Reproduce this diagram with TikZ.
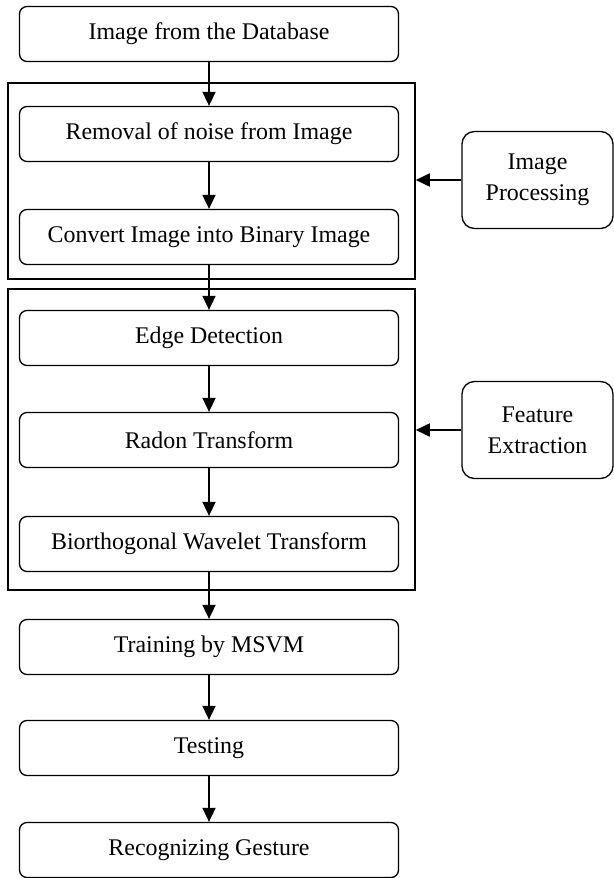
\documentclass[tikz,border=0pt]{standalone}
\usepackage{fontspec}
\setmainfont{Liberation Serif}
\usetikzlibrary{arrows.meta}
\begin{document}
\begin{tikzpicture}[>={Triangle[length=8pt,width=7.5pt]},
  stage/.style={draw,line width=0.75pt,rounded corners=0.15cm,minimum width=7.58cm,minimum height=1.1cm,font=\fontsize{13.6}{16}\selectfont},
  group/.style={draw,line width=0.9pt,inner sep=0pt,minimum width=8.14cm},
  side/.style={draw,line width=0.75pt,rounded corners=0.25cm,minimum width=3.02cm,minimum height=1.94cm,align=center,font=\fontsize{13.6}{17.6}\selectfont},
  flow/.style={->,line width=0.8pt}]
  \useasboundingbox (0,0) rectangle (12.28,-17.56);
  \node[group,minimum height=3.92cm] (ipframe) at (4.23,-3.62) {};
  \node[group,minimum height=6.02cm] (feframe) at (4.23,-8.79) {};
  \node[stage] (db) at (4.18,-0.68) {Image from the Database};
  \node[stage] (noise) at (4.18,-2.68) {Removal of noise from Image};
  \node[stage] (binary) at (4.18,-4.74) {Convert Image into Binary Image};
  \node[stage] (edge) at (4.18,-6.76) {Edge Detection};
  \node[stage] (radon) at (4.18,-8.80) {Radon Transform};
  \node[stage] (wavelet) at (4.18,-10.88) {Biorthogonal Wavelet Transform};
  \node[stage] (msvm) at (4.18,-12.94) {Training by MSVM};
  \node[stage] (testing) at (4.18,-14.96) {Testing};
  \node[stage] (gesture) at (4.18,-17.0) {Recognizing Gesture};
  \node[side] (ip) at (10.75,-3.6) {Image\\Processing};
  \node[side] (fe) at (10.75,-8.6) {Feature\\Extraction};
  \draw[flow] (db) -- (noise);
  \draw[flow] (noise) -- (binary);
  \draw[flow] (binary) -- (edge);
  \draw[flow] (edge) -- (radon);
  \draw[flow] (radon) -- (wavelet);
  \draw[flow] (wavelet) -- (msvm);
  \draw[flow] (msvm) -- (testing);
  \draw[flow] (testing) -- (gesture);
  \draw[flow] (ip.west) -- (ip.west -| ipframe.east);
  \draw[flow] (fe.west) -- (fe.west -| feframe.east);
\end{tikzpicture}
\end{document}
